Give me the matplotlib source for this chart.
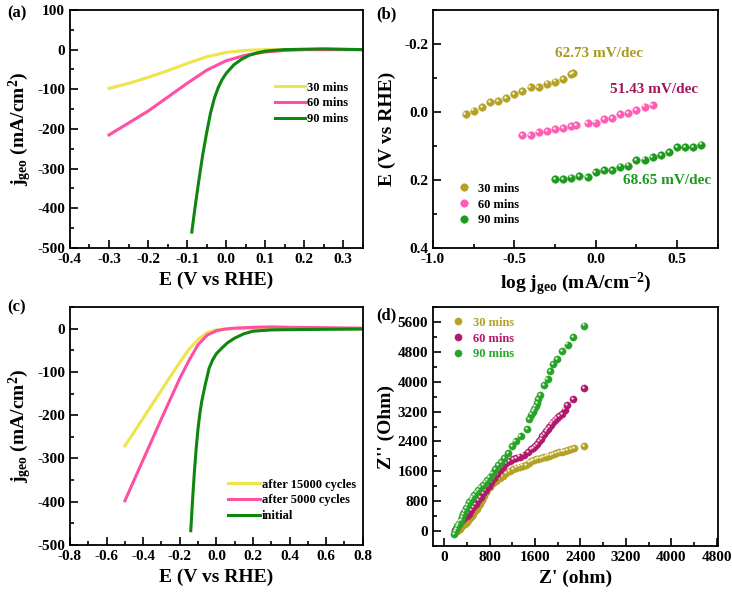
import matplotlib
matplotlib.use('Agg')
import matplotlib.pyplot as plt
from matplotlib.ticker import MultipleLocator
from matplotlib.transforms import offset_copy
import numpy as np

plt.rcParams['font.family'] = 'Liberation Serif'
plt.rcParams['font.weight'] = 'bold'
plt.rcParams['axes.unicode_minus'] = False
plt.rcParams['mathtext.fontset'] = 'custom'
plt.rcParams['mathtext.rm'] = 'Liberation Serif:bold'
plt.rcParams['mathtext.it'] = 'Liberation Serif:bold'
plt.rcParams['mathtext.bf'] = 'Liberation Serif:bold'

# (a) LSV curves
a_labels = ['30 mins', '60 mins', '90 mins']
a_colors = ['#ede54a', '#ff4fa3', '#0f870f']
a30_E = [-0.3, -0.25, -0.2, -0.15, -0.1, -0.05, 0.0, 0.05, 0.1, 0.2, 0.35]
a30_j = [-98, -85, -70, -53, -35, -18, -7, -2, 0, 0, 0]
a60_E = [-0.3, -0.25, -0.2, -0.15, -0.1, -0.05, 0.0, 0.05, 0.1, 0.15, 0.2, 0.35]
a60_j = [-215, -185, -155, -120, -85, -52, -28, -14, -6, -2, 0, 0]
a90_E = [-0.088, -0.08, -0.07, -0.06, -0.05, -0.04, -0.03, -0.02, -0.01, 0.0, 0.02,
         0.04, 0.06, 0.08, 0.1, 0.12, 0.15, 0.2, 0.25, 0.3, 0.35]
a90_j = [-460, -400, -330, -265, -210, -160, -122, -95, -75, -60, -38,
         -24, -14, -8, -4, -2, 0, 1, 2, 1, 0]

# (b) Tafel
b_labels = ['30 mins', '60 mins', '90 mins']
b_colors = ['#b3a224', '#ff5cb5', '#1c9a1c']
b_text = ['62.73 mV/dec', '51.43 mV/dec', '68.65 mV/dec']
b_text_colors = ['#a89a22', '#a3165c', '#1c9a1c']
b30_x = [-0.8, -0.75, -0.7, -0.65, -0.6, -0.55, -0.5, -0.45, -0.4, -0.35, -0.3, -0.25, -0.2, -0.15, -0.14]
b30_y = [0.006, -0.004, -0.014, -0.029, -0.031, -0.040, -0.052, -0.062, -0.072, -0.072, -0.083,
         -0.089, -0.097, -0.112, -0.115]
b60_x = [-0.45, -0.4, -0.35, -0.3, -0.25, -0.2, -0.15, -0.12, -0.05, 0.0, 0.05, 0.1, 0.15, 0.2,
         0.25, 0.3, 0.35]
b60_y = [0.069, 0.067, 0.060, 0.056, 0.051, 0.048, 0.041, 0.039, 0.033, 0.031, 0.021, 0.018,
         0.007, 0.003, -0.006, -0.016, -0.020]
b90_x = [-0.25, -0.2, -0.15, -0.1, -0.05, 0.0, 0.05, 0.1, 0.15, 0.2, 0.25, 0.3, 0.35, 0.4,
         0.45, 0.5, 0.55, 0.6, 0.65]
b90_y = [0.198, 0.198, 0.193, 0.189, 0.191, 0.178, 0.172, 0.172, 0.161, 0.158, 0.141, 0.140,
         0.132, 0.127, 0.119, 0.104, 0.104, 0.103, 0.096]
b_text_pos = [(0.02, -0.173), (0.357, -0.065), (0.44, 0.201)]

# (c) stability
c_labels = ['after 15000 cycles', 'after 5000 cycles', 'initial']
c_colors = ['#ede54a', '#ff4fa3', '#0f870f']
c15_E = [-0.5, -0.4, -0.3, -0.25, -0.2, -0.15, -0.1, -0.05, 0.0, 0.05, 0.1, 0.3, 0.5, 0.8]
c15_j = [-271, -207, -142, -110, -78, -48, -25, -9, -3, -1, 0, 0, 0, 0]
c5_E = [-0.5, -0.4, -0.3, -0.2, -0.15, -0.1, -0.05, 0.0, 0.05, 0.1, 0.2, 0.3, 0.4, 0.6, 0.8]
c5_j = [-398, -303, -208, -115, -74, -37, -15, -5, -1, 1, 3, 4, 3, 2, 1]
c0_E = [-0.14, -0.13, -0.12, -0.11, -0.1, -0.09, -0.08, -0.06, -0.04, -0.02, 0.0, 0.03,
        0.06, 0.1, 0.15, 0.2, 0.3, 0.5, 0.8]
c0_j = [-467, -395, -330, -275, -230, -195, -168, -128, -92, -72, -58, -45,
        -33, -22, -12, -6, -3, -2, -1]

# (d) Nyquist
d_labels = ['30 mins', '60 mins', '90 mins']
d_colors = ['#b3a224', '#b0186c', '#27a327']
d30_x = [216, 245, 274, 300, 330, 360, 391, 420, 450, 480, 508, 540, 570, 600, 625, 660, 700,
         742, 800, 858, 910, 975, 1030, 1092, 1150, 1209, 1270, 1326, 1380, 1443, 1490, 1530,
         1575, 1618, 1660, 1705, 1750, 1793, 1840, 1880, 1925, 1968, 2020, 2073, 2120, 2172,
         2230, 2289, 2464]
d30_y = [0, 30, 63, 110, 160, 200, 243, 290, 350, 410, 467, 530, 600, 670, 737, 830, 940,
         1052, 1170, 1276, 1340, 1411, 1480, 1546, 1610, 1663, 1700, 1726, 1750, 1771, 1830,
         1879, 1900, 1924, 1940, 1951, 1975, 1996, 2020, 2041, 2065, 2086, 2110, 2130, 2150,
         2175, 2200, 2220, 2283]
d60_x = [187, 216, 250, 290, 330, 370, 391, 430, 470, 510, 550, 600, 640, 683, 730, 780, 830,
         880, 930, 975, 1030, 1092, 1150, 1209, 1270, 1326, 1400, 1472, 1530, 1570, 1606,
         1640, 1676, 1700, 1723, 1760, 1793, 1820, 1851, 1880, 1910, 1945, 1980, 2030, 2073,
         2120, 2161, 2272, 2464]
d60_y = [18, 108, 180, 270, 330, 370, 400, 470, 560, 640, 730, 820, 910, 1007, 1100, 1200,
         1310, 1410, 1520, 1636, 1720, 1816, 1870, 1924, 1960, 1996, 2050, 2104, 2193, 2230,
         2265, 2330, 2400, 2470, 2535, 2600, 2670, 2730, 2787, 2850, 2921, 2975, 3029, 3080,
         3137, 3250, 3371, 3524, 3820]
d90_x = [169, 190, 210, 230, 250, 270, 290, 310, 330, 350, 380, 410, 440, 470, 500, 530, 560,
         600, 640, 680, 720, 760, 800, 850, 900, 950, 1000, 1060, 1120, 1191, 1256, 1343, 1460,
         1501, 1530, 1560, 1589, 1610, 1635, 1660, 1688, 1764, 1822, 1869, 1921, 1986, 2073,
         2172, 2272, 2464]
d90_y = [-72, 0, 60, 130, 190, 250, 300, 380, 450, 520, 620, 700, 780, 840, 900, 960, 1030,
         1100, 1170, 1240, 1300, 1370, 1450, 1550, 1650, 1760, 1850, 1960, 2080, 2265, 2400,
         2535, 2733, 3003, 3119, 3200, 3272, 3350, 3434, 3530, 3641, 3902, 4063, 4288, 4468,
         4603, 4810, 4990, 5187, 5502]

fig = plt.figure(figsize=(7.32, 6.0), dpi=100)
ax_a = fig.add_axes([0.0956, 0.5867, 0.400, 0.3967])
ax_b = fig.add_axes([0.5915, 0.5867, 0.389, 0.3967])
ax_c = fig.add_axes([0.0956, 0.0917, 0.400, 0.3967])
ax_d = fig.add_axes([0.5915, 0.0900, 0.389, 0.3983])


def style(ax):
    for s in ax.spines.values():
        s.set_linewidth(1.3)
    ax.tick_params(which='both', direction='in', top=False, right=False, labelsize=11, width=1.2)
    ax.tick_params(which='major', length=5.5)
    ax.tick_params(which='minor', length=3)
    for lab in ax.get_xticklabels() + ax.get_yticklabels():
        lab.set_fontweight('bold')


def balls(ax, x, y, color, ms=5.5, label=None):
    ax.plot(x, y, 'o', color=color, ms=ms, mec=color, mew=0.3, label=label)
    tr = offset_copy(ax.transData, fig=fig, x=-0.9, y=0.9, units='points')
    ax.plot(x, y, 'o', color='white', ms=ms * 0.32, mew=0, alpha=0.9, transform=tr)


lab_font = dict(fontsize=14, fontweight='bold')

# (a)
for E, j, c, l in zip([a30_E, a60_E, a90_E], [a30_j, a60_j, a90_j], a_colors, a_labels):
    ax_a.plot(E, j, color=c, lw=2.2, label=l)
ax_a.set_xlim(-0.4, 0.35)
ax_a.set_ylim(-500, 100)
ax_a.xaxis.set_major_locator(MultipleLocator(0.1))
ax_a.xaxis.set_minor_locator(MultipleLocator(0.05))
ax_a.yaxis.set_major_locator(MultipleLocator(100))
ax_a.yaxis.set_minor_locator(MultipleLocator(50))
ax_a.set_xlabel('E (V vs RHE)', **lab_font)
ax_a.set_ylabel(r'$\mathrm{j_{geo}}$ (mA/cm$^{\mathrm{2}}$)', **lab_font, labelpad=2)
ax_a.legend(loc='upper left', bbox_to_anchor=(0.68, 0.725), handlelength=2.4,
            handletextpad=0.1, frameon=False, labelspacing=0.3, borderpad=0,
            prop={'weight': 'bold', 'size': 9})
style(ax_a)

# (b)
for x, y, c, l in zip([b30_x, b60_x, b90_x], [b30_y, b60_y, b90_y], b_colors, b_labels):
    balls(ax_b, x, y, c, label=l)
for t, c, (tx, ty) in zip(b_text, b_text_colors, b_text_pos):
    ax_b.text(tx, ty, t, color=c, fontsize=11, fontweight='bold', ha='center', va='center')
ax_b.set_xlim(-1.0, 0.75)
ax_b.set_ylim(0.4, -0.3)
ax_b.xaxis.set_minor_locator(MultipleLocator(0.25))
ax_b.yaxis.set_minor_locator(MultipleLocator(0.1))
ax_b.set_yticks([-0.2, 0.0, 0.2, 0.4])
ax_b.set_yticklabels(['-0.2', '0.0', '0.2', '0.4'])
ax_b.set_xticks([-1.0, -0.5, 0.0, 0.5])
ax_b.set_xticklabels(['-1.0', '-0.5', '0.0', '0.5'])
ax_b.set_xlabel(r'log $\mathrm{j_{geo}}$ (mA/cm$^{\mathrm{-2}}$)', **lab_font)
ax_b.set_ylabel('E (V vs RHE)', **lab_font, labelpad=6)
ax_b.legend(loc='upper left', bbox_to_anchor=(0.06, 0.30), handlelength=1.2,
            handletextpad=0.5, frameon=False, labelspacing=0.3, borderpad=0,
            prop={'weight': 'bold', 'size': 9})
style(ax_b)

# (c)
for E, j, c, l in zip([c15_E, c5_E, c0_E], [c15_j, c5_j, c0_j], c_colors, c_labels):
    ax_c.plot(E, j, color=c, lw=2.2, label=l)
ax_c.set_xlim(-0.8, 0.8)
ax_c.set_ylim(-500, 50)
ax_c.xaxis.set_major_locator(MultipleLocator(0.2))
ax_c.xaxis.set_minor_locator(MultipleLocator(0.1))
ax_c.yaxis.set_major_locator(MultipleLocator(100))
ax_c.yaxis.set_minor_locator(MultipleLocator(50))
ax_c.set_xlabel('E (V vs RHE)', **lab_font)
ax_c.set_ylabel(r'$\mathrm{j_{geo}}$ (mA/cm$^{\mathrm{2}}$)', **lab_font, labelpad=2)
ax_c.legend(loc='upper left', bbox_to_anchor=(0.518, 0.305), handlelength=2.6,
            handletextpad=0.1, frameon=False, labelspacing=0.3, borderpad=0,
            prop={'weight': 'bold', 'size': 9})
style(ax_c)

# (d)
for x, y, c, l in zip([d30_x, d60_x, d90_x], [d30_y, d60_y, d90_y], d_colors, d_labels):
    balls(ax_d, x, y, c, ms=5.2, label=l)
ax_d.set_xlim(-200, 4820)
ax_d.set_ylim(-400, 6000)
ax_d.xaxis.set_major_locator(MultipleLocator(800))
ax_d.xaxis.set_minor_locator(MultipleLocator(400))
ax_d.yaxis.set_major_locator(MultipleLocator(800))
ax_d.yaxis.set_minor_locator(MultipleLocator(400))
ax_d.set_xlabel("Z' (ohm)", **lab_font)
ax_d.set_ylabel("Z'' (Ohm)", **lab_font, labelpad=2)
leg = ax_d.legend(loc='upper left', bbox_to_anchor=(0.04, 0.985), handlelength=1.2,
                  handletextpad=0.6, frameon=False, labelspacing=0.3, borderpad=0,
                  prop={'weight': 'bold', 'size': 9})
for t, c in zip(leg.get_texts(), d_colors):
    t.set_color(c)
style(ax_d)

panel_pos = [(-0.215, 0.985), (-0.2, 0.98), (-0.215, 1.0), (-0.2, 0.967)]
for ax, t, (px, py) in zip([ax_a, ax_b, ax_c, ax_d], ['(a)', '(b)', '(c)', '(d)'], panel_pos):
    ax.text(px, py, t, transform=ax.transAxes, fontsize=12, fontweight='bold',
            ha='left', va='center')

fig.savefig('out.png', dpi=100)
